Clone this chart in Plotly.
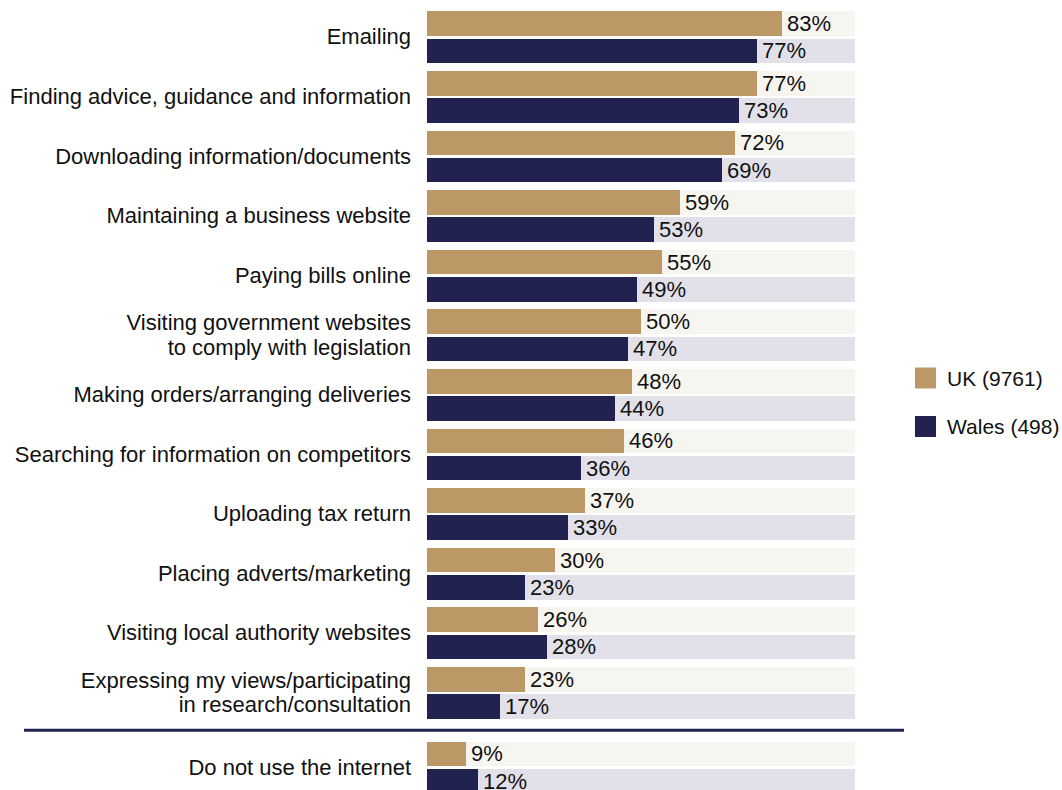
import plotly.graph_objects as go

# Survey data: share of businesses using the internet for each activity (%)
categories = [
    "Emailing",
    "Finding advice, guidance and information",
    "Downloading information/documents",
    "Maintaining a business website",
    "Paying bills online",
    "Visiting government websites<br>to comply with legislation",
    "Making orders/arranging deliveries",
    "Searching for information on competitors",
    "Uploading tax return",
    "Placing adverts/marketing",
    "Visiting local authority websites",
    "Expressing my views/participating<br>in research/consultation",
    "Do not use the internet",
]
uk_values = [83, 77, 72, 59, 55, 50, 48, 46, 37, 30, 26, 23, 9]
wales_values = [77, 73, 69, 53, 49, 47, 44, 36, 33, 23, 28, 17, 12]
series_names = ["UK (9761)", "Wales (498)"]

# Styling
W, H = 1062, 790
X0, X1 = 427, 855          # horizontal pixel extent of the 0-100% scale
TOP = 37.25                # centre of the first group (pixel units on y)
PITCH = 59.6               # spacing between groups
SEP_EXTRA = 15             # extra room before the final, separated group
BAR_H = 24.5
OFFSET = 13.6
LINE_GAP = 24.5            # spacing of wrapped category label lines
UK_COLOR = "#BC9867"
WALES_COLOR = "#222250"
UK_TRACK = "#F7F5F0"
WALES_TRACK = "#E2E1E9"
TEXT_COLOR = "#111111"
FONT = "Liberation Sans, Arial, Helvetica, sans-serif"
FS = 22

n = len(categories)
centers = [TOP + i * PITCH + (SEP_EXTRA if i == n - 1 else 0) for i in range(n)]
uk_y = [c - OFFSET for c in centers]
wales_y = [c + OFFSET for c in centers]

# Category labels: wrapped labels become one tick per line for tighter leading
tick_vals, tick_text = [], []
for c, label in zip(centers, categories):
    lines = label.split("<br>")
    k = len(lines)
    for j, line in enumerate(lines):
        tick_vals.append(c + (j - (k - 1) / 2) * LINE_GAP - 0.5)
        tick_text.append(line)

fig = go.Figure()

# Background tracks up to 100%
for ys, col in ((uk_y, UK_TRACK), (wales_y, WALES_TRACK)):
    fig.add_trace(go.Bar(
        x=[100] * n, y=ys, orientation="h", width=BAR_H,
        marker=dict(color=col, line=dict(width=0)),
        hoverinfo="skip", showlegend=False,
    ))

# Value bars with their percentage labels
for vals, ys, col, name in ((uk_values, uk_y, UK_COLOR, series_names[0]),
                            (wales_values, wales_y, WALES_COLOR, series_names[1])):
    fig.add_trace(go.Bar(
        x=vals, y=ys, orientation="h", width=BAR_H, name=name,
        marker=dict(color=col, line=dict(width=0)),
        showlegend=False,
    ))
    for v, y in zip(vals, ys):
        fig.add_annotation(x=v, y=y, text=f"{v}%", showarrow=False,
                           xanchor="left", yanchor="middle", xshift=3,
                           font=dict(family=FONT, size=FS, color=TEXT_COLOR))

# Separator above the last group
sep_y = (wales_y[n - 2] + BAR_H / 2 + uk_y[n - 1] - BAR_H / 2) / 2
fig.add_shape(type="line", xref="paper", yref="y",
              x0=24 / W, x1=904 / W, y0=sep_y, y1=sep_y,
              line=dict(color=WALES_COLOR, width=3))

# Legend drawn as swatches plus labels
legend_rows = [(378, UK_COLOR, series_names[0]), (426.5, WALES_COLOR, series_names[1])]
for yc, col, name in legend_rows:
    fig.add_shape(type="rect", xref="paper", yref="paper",
                  x0=915 / W, x1=936 / W,
                  y0=1 - (yc - 10.5) / H, y1=1 - (yc + 10.5) / H,
                  fillcolor=col, line=dict(width=0))
    fig.add_annotation(xref="paper", yref="paper", x=945 / W, y=1 - yc / H,
                       text=name, showarrow=False, xanchor="left", yanchor="middle",
                       font=dict(family=FONT, size=21, color=TEXT_COLOR))

fig.update_layout(
    width=W, height=H,
    margin=dict(l=0, r=0, t=0, b=0),
    paper_bgcolor="white", plot_bgcolor="white",
    barmode="overlay", bargap=0,
    showlegend=False,
    font=dict(family=FONT, size=FS, color=TEXT_COLOR),
    xaxis=dict(domain=[X0 / W, X1 / W], range=[0, 100], visible=False,
               fixedrange=True),
    yaxis=dict(range=[H, 0], tickvals=tick_vals, ticktext=tick_text,
               showgrid=False, zeroline=False, showline=False, ticks="",
               ticklabelstandoff=15,
               tickfont=dict(family=FONT, size=FS, color=TEXT_COLOR),
               fixedrange=True),
)

fig.write_html("out.html")
